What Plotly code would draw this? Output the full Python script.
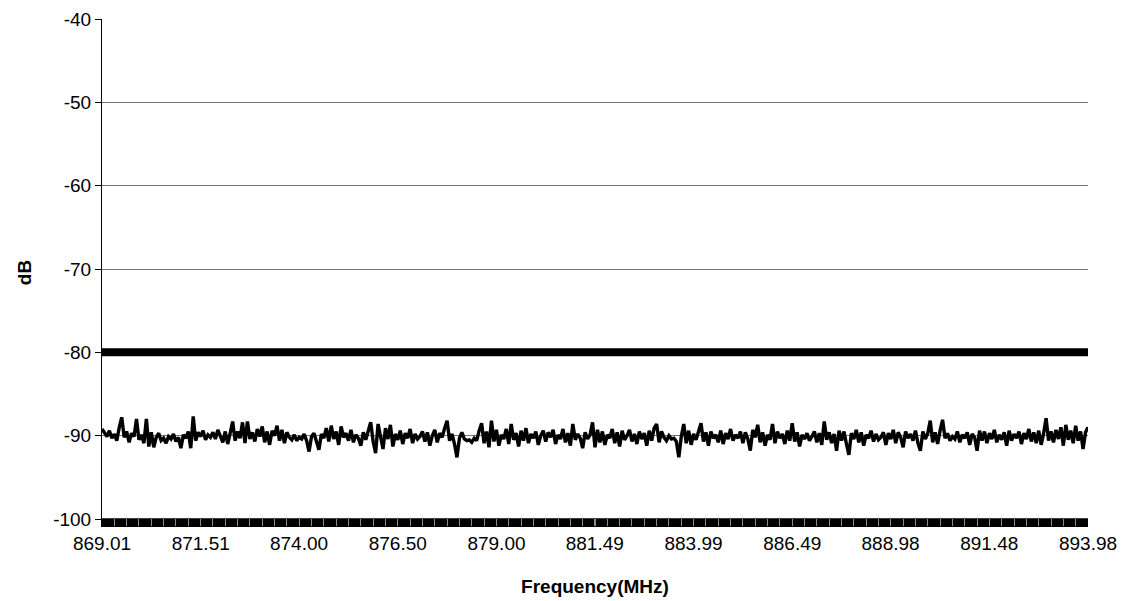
import numpy as np
import plotly.graph_objects as go

# ---------------- data ----------------
freq_start = 869.01
freq_stop = 893.98

noise_db = [
    -89.2, -89.6, -90.1, -89.4, -90.3, -89.8, -90.6, -89.0, -87.8, -90.2, -89.5, -90.8, -89.7, -90.1, -88.0, -90.5, -89.9, -90.9, -88.0, -91.3,
    -89.6, -91.4, -90.2, -89.7, -90.6, -90.3, -90.9, -90.1, -90.4, -89.8, -90.7, -90.2, -91.5, -89.9, -90.3, -89.5, -91.5, -87.7, -90.6, -89.6,
    -90.1, -89.4, -90.5, -89.9, -90.2, -89.6, -90.4, -89.3, -90.0, -90.8, -89.5, -91.0, -89.7, -88.3, -90.6, -89.5, -90.3, -88.4, -90.9, -88.3,
    -90.4, -89.6, -90.7, -89.2, -90.1, -88.9, -90.8, -89.5, -91.1, -89.4, -90.0, -88.8, -90.6, -89.3, -90.9, -89.6, -90.2, -90.5, -89.9, -90.6,
    -90.2, -90.4, -89.8, -90.6, -91.9, -90.1, -89.7, -90.9, -91.7, -89.8, -90.3, -89.1, -90.7, -88.8, -90.4, -89.5, -91.1, -88.9, -90.2, -89.7,
    -90.6, -89.3, -90.8, -89.9, -90.3, -91.2, -89.6, -90.5, -89.4, -88.4, -90.7, -92.1, -88.6, -90.2, -91.6, -89.1, -90.4, -88.7, -91.3, -89.8,
    -90.5, -89.4, -91.0, -89.7, -90.3, -89.2, -90.9, -89.8, -90.4, -90.1, -89.5, -90.7, -89.6, -91.2, -90.0, -89.3, -90.8, -89.7, -90.2, -89.1,
    -88.2, -90.6, -89.8, -91.0, -92.6, -90.3, -89.6, -90.4, -90.6, -90.5, -90.8, -90.3, -90.6, -89.4, -88.5, -90.9, -89.5, -91.4, -88.2, -90.7,
    -89.3, -91.2, -89.9, -90.4, -89.2, -91.0, -88.6, -90.5, -89.7, -91.3, -89.4, -90.6, -89.1, -90.9, -89.8, -90.3, -89.5, -91.1, -90.0, -89.4,
    -90.7, -89.6, -90.2, -89.3, -91.0, -89.9, -90.4, -89.2, -90.8, -89.7, -91.2, -88.6, -90.5, -89.8, -90.3, -91.5, -89.6, -90.4, -89.9, -88.4,
    -91.4, -89.3, -90.8, -89.5, -91.1, -89.9, -90.3, -89.2, -90.9, -89.6, -91.3, -89.4, -90.5, -90.0, -89.3, -90.7, -89.8, -91.0, -89.5, -90.4,
    -89.7, -91.2, -89.4, -90.6, -89.1, -88.6, -90.8, -89.5, -90.2, -90.6, -90.0, -90.4, -90.3, -90.7, -92.6, -90.1, -88.6, -90.9, -89.4, -91.1,
    -89.8, -90.5, -89.3, -88.5, -90.7, -89.6, -91.2, -89.5, -90.3, -89.9, -90.8, -89.4, -91.0, -89.7, -90.4, -89.2, -90.6, -89.9, -90.3, -89.5,
    -90.9, -89.6, -90.4, -91.8, -89.3, -90.2, -88.7, -90.8, -89.6, -91.2, -89.9, -90.5, -88.6, -90.9, -89.5, -90.3, -89.8, -91.0, -89.4, -90.6,
    -88.5, -90.7, -89.6, -91.3, -89.9, -90.4, -89.7, -90.6, -90.1, -89.5, -90.8, -89.7, -91.1, -88.3, -90.5, -89.6, -90.9, -89.8, -91.8, -89.4,
    -90.6, -89.5, -91.0, -92.3, -89.7, -90.4, -89.3, -90.8, -89.6, -91.2, -89.9, -90.3, -89.4, -90.7, -89.8, -90.5, -90.2, -89.6, -91.1, -89.7,
    -90.4, -89.3, -90.9, -89.6, -90.2, -91.4, -89.5, -90.3, -89.8, -90.6, -89.4, -90.9, -91.8, -89.5, -90.4, -89.7, -88.2, -90.8, -89.6, -91.0,
    -89.4, -88.1, -90.3, -89.7, -90.6, -90.1, -90.4, -89.5, -90.8, -89.9, -90.3, -89.6, -91.1, -89.8, -90.2, -91.8, -89.4, -90.6, -89.5, -90.9,
    -89.7, -90.4, -89.3, -90.8, -89.9, -90.5, -89.6, -91.2, -89.4, -90.6, -89.8, -90.3, -89.5, -91.0, -89.7, -90.4, -89.2, -90.7, -89.6, -90.9,
    -89.4, -91.1, -89.7, -87.9, -90.6, -89.5, -90.8, -89.3, -90.4, -89.0, -91.2, -88.7, -90.5, -89.4, -90.9, -88.8, -90.6, -89.5, -91.6, -89.6,
    -89.0,
]

limit_db = -80.0      # upper limit line
floor_db = -100.4     # thick band drawn along the bottom of the plot

tick_labels = ["869.01", "871.51", "874.00", "876.50", "879.00", "881.49",
               "883.99", "886.49", "888.98", "891.48", "893.98"]
y_ticks = [-40, -50, -60, -70, -80, -90, -100]
y_tick_labels = ["-40", "-50", "-60", "-70", "-80", "-90", "-100"]

x_title = "Frequency(MHz)"
y_title = "dB"

# ---------------- figure ----------------
n = len(noise_db)
freqs = np.linspace(freq_start, freq_stop, n)
tick_vals = [float(t) for t in tick_labels]
minor_vals = [float(f) for f in freqs[::5]]

font_family = "Arial, Liberation Sans, sans-serif"

fig = go.Figure()
fig.add_trace(go.Scatter(x=freqs, y=[floor_db] * n, mode="lines",
                         line=dict(color="black", width=8), hoverinfo="skip"))
fig.add_trace(go.Scatter(x=freqs, y=[limit_db] * n, mode="lines",
                         line=dict(color="black", width=8), hoverinfo="skip"))
fig.add_trace(go.Scatter(x=freqs, y=noise_db, mode="lines",
                         line=dict(color="black", width=3.4)))

# page body has an 8px default margin: figure is sized/placed to compensate
fig.update_layout(
    width=1119, height=593,
    margin=dict(l=94, r=39, t=11, b=75),
    paper_bgcolor="white", plot_bgcolor="white",
    showlegend=False,
    font=dict(family=font_family, size=19, color="black"),
)
fig.update_xaxes(
    range=[freq_start, freq_stop],
    tickmode="array", tickvals=tick_vals, ticktext=tick_labels,
    ticks="inside", ticklen=7, tickcolor="#8a8a8a", tickwidth=1,
    minor=dict(tickmode="array", tickvals=minor_vals, ticks="inside",
               ticklen=7, tickcolor="#8a8a8a", tickwidth=1, showgrid=False),
    showgrid=False, zeroline=False,
    showline=True, linecolor="black", linewidth=1,
    layer="above traces",
    automargin=False,
    ticklabeloverflow="allow",
    title=dict(text="<b>" + x_title + "</b>", font=dict(size=19), standoff=26),
    tickfont=dict(size=19),
)
fig.update_yaxes(
    range=[-100.84, -40],
    tickmode="array", tickvals=y_ticks, ticktext=y_tick_labels,
    ticks="outside", ticklen=6, tickcolor="black",
    showgrid=True, gridcolor="#777777", gridwidth=1,
    zeroline=False,
    showline=True, linecolor="black", linewidth=1,
    automargin=False,
    ticklabeloverflow="allow",
    title=dict(text="<b>" + y_title + "</b>", font=dict(size=19), standoff=16),
    tickfont=dict(size=19),
)

fig.write_html("out.html")
